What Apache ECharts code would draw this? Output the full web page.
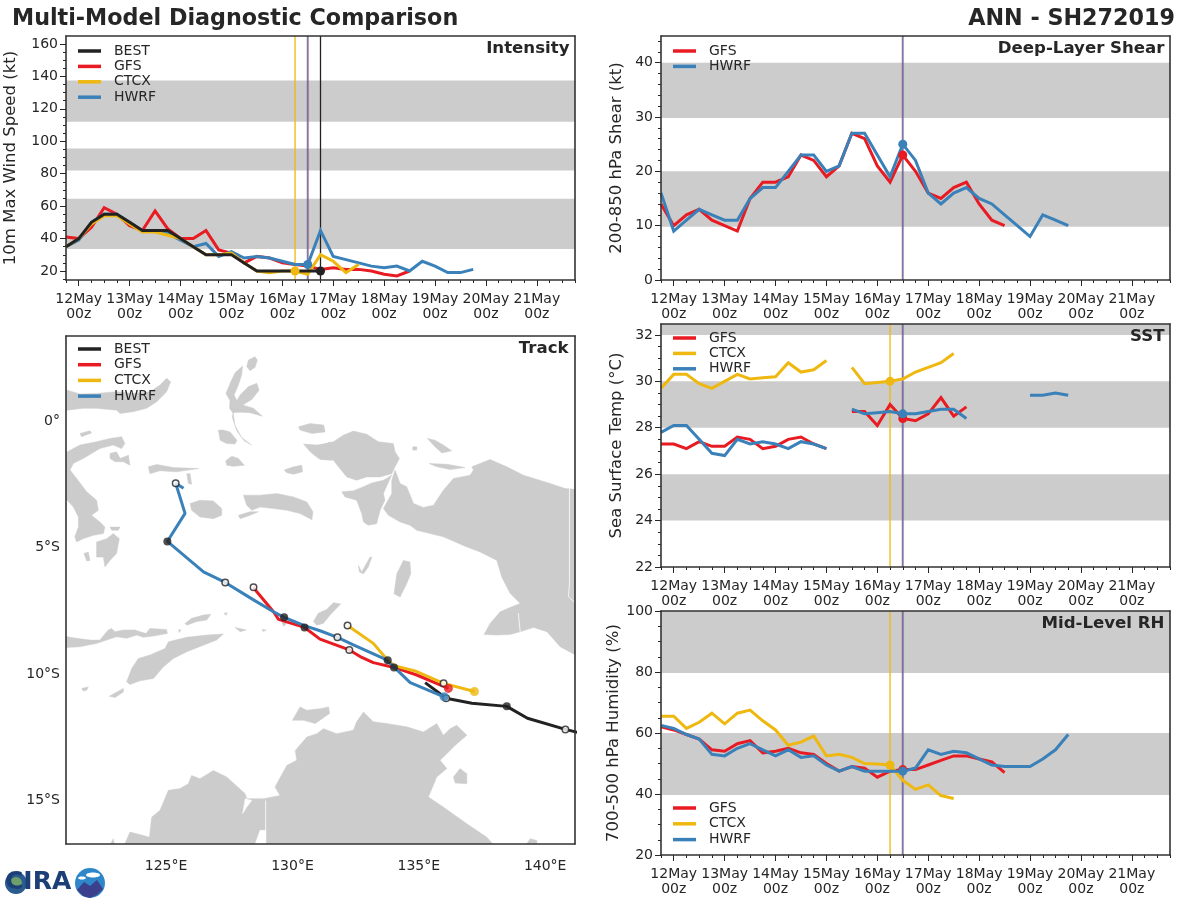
<!DOCTYPE html>
<html><head><meta charset="utf-8"><style>html,body{margin:0;padding:0;background:#fff}#c{width:1200px;height:900px}</style>
<script src="https://cdn.jsdelivr.net/npm/echarts@6/dist/echarts.min.js"></script></head><body><div id="c"></div>
<script>
const hours=[-6,0,6,12,18,24,30,36,42,48,54,60,66,72,78,84,90,96,102,108,114,120,126,132,138,144,150,156,162,168,174,180,186];
const dayTicks=[0,24,48,72,96,120,144,168,192,216];
const dayLabels=['12May\n00z','13May\n00z','14May\n00z','15May\n00z','16May\n00z','17May\n00z','18May\n00z','19May\n00z','20May\n00z','21May\n00z'];
const sixHourTicks=[-6,6,12,18,30,36,42,54,60,66,78,84,90,102,108,114,126,132,138,150,156,162,174,180,186,198,204,210,222,228,234];

const intensityBEST=[35,40,50,55,55,50,45,45,45,40,35,30,30,30,25,20,20,20,20,20,20];
const intensityGFS=[41,40,47,59,55,48,45,57,46,40,40,45,33,31,25,29,28,25,24,23,21,22,21,21,20,18,17,20];
const intensityCTCX=[35,40,49,54,54,49,44,44,42,40,35,30,30,31,25,20,19,20,20,18,30,26,19,24];
const intensityHWRF=[35,39,50,55,55,50,45,45,43,39,35,37,29,32,28,29,28,26,24,24,45,29,27,25,23,22,23,20,26,23,19,19,21];
const shearGFS=[14,10,12,13,11,10,9,15,18,18,19,23,22,19,21,27,26,21,18,23,20,16,15,17,18,14,11,10];
const shearHWRF=[16,9,11,13,12,11,11,15,17,17,20,23,23,20,21,27,27,23,19,25,22,16,14,16,17,15,14,12,10,8,12,11,10];
const sstGFS=[27.3,27.3,27.1,27.4,27.2,27.2,27.6,27.5,27.1,27.2,27.5,27.6,27.3,27.1,null,28.7,28.7,28.1,29.0,28.4,28.3,28.6,29.3,28.5,28.9];
const sstCTCX=[29.7,30.3,30.3,29.9,29.7,30.0,30.3,30.1,30.15,30.2,30.8,30.4,30.5,30.9,null,30.6,29.9,29.95,30.0,30.1,30.4,30.6,30.8,31.2];
const sstHWRF=[27.8,28.1,28.1,27.5,26.9,26.8,27.5,27.3,27.4,27.3,27.1,27.4,27.3,27.1,null,28.8,28.6,28.65,28.7,28.6,28.6,28.7,28.8,28.8,28.4,null,null,null,null,29.4,29.4,29.5,29.4];
const rhGFS=[62,61,59.5,58,54.5,54,56.5,57.5,53.5,54,55,53.5,53,50,47.5,49,48.5,45.5,47.5,48,48,49.5,51,52.5,52.5,51.5,50.5,47];
const rhCTCX=[65.5,65.5,61.5,63.5,66.5,63,66.5,67.5,64,61,56,57,59,52.5,53,52,50,49.8,49.5,44.5,41.5,43,39.5,38.5];
const rhHWRF=[62.5,61.5,59.5,58,53,52.5,55,56.5,54.5,52.5,54.5,52,52.5,49.5,47.5,49,47.5,47.5,47.5,47.5,48.5,54.5,53,54,53.5,51.5,49.5,49,49,49,51.5,54.5,59.5];

const bandsIntensity=[[33.5,64.5],[82,95.5],[112,137.5]];
const bandsShear=[[9.8,20],[29.8,40]];
const bandsSST=[[24,26],[28,30],[32,33]];
const bandsRH=[[39.7,60],[79.7,100]];

const trackBEST=[[141.52,-12.37],[140.80,-12.19],[139.30,-11.75],[138.48,-11.28],[137.10,-11.16],[136.08,-10.96],[135.25,-10.34]];
const trackGFS=[[136.17,-10.57],[134.92,-10.04],[134.02,-9.74],[133.20,-9.55],[132.68,-9.31],[132.25,-9.05],[131.09,-8.62],[130.48,-8.16],[129.45,-7.84],[129.25,-7.54],[128.59,-6.75],[128.46,-6.57]];
const trackCTCX=[[137.20,-10.69],[135.98,-10.37],[134.85,-9.88],[134.06,-9.68],[133.77,-9.46],[133.20,-8.79],[132.18,-8.08]];
const trackHWRF=[[136.0,-10.90],[134.66,-10.34],[133.93,-9.64],[133.60,-9.38],[132.41,-8.85],[131.78,-8.55],[131.09,-8.29],[130.50,-8.10],[129.67,-7.76],[129.25,-7.54],[128.46,-7.07],[127.34,-6.38],[126.48,-5.96],[125.05,-4.76],[125.75,-3.65],[125.38,-2.46],[125.69,-2.66]];
const trackFilled=[[138.48,-11.28],[133.77,-9.46],[129.67,-7.76],[125.05,-4.76],[134.02,-9.74],[130.48,-8.16]];
const trackOpen=[[140.80,-12.19],[136.08,-10.96],[131.78,-8.55],[127.34,-6.38],[125.38,-2.46],[132.25,-9.05],[128.46,-6.57],[135.98,-10.37],[132.18,-8.08]];
const lonTicks=[125,130,135,140], lonLabels=['125°E','130°E','135°E','140°E'];
const latTicks=[0,-5,-10,-15], latLabels=['0°','5°S','10°S','15°S'];

const landCelebesNorth=[[120.67,1.22],[121.09,1.22],[121.59,1.07],[122.25,1.09],[123.04,1.16],[123.70,1.09],[124.36,1.16],[124.76,1.42],[125.02,1.69],[125.18,1.55],[125.02,1.16],[124.63,0.76],[124.23,0.50],[123.70,0.37],[123.18,0.30],[123.04,0.43],[122.25,0.50],[121.72,0.50],[121.09,0.43],[120.67,0.43]];
const landMorotai=[[128.19,2.15],[128.26,2.41],[128.52,2.54],[128.61,2.41],[128.52,2.12],[128.32,1.99]];
const landHalmahera=[[128.03,2.17],[127.73,1.91],[127.56,1.55],[127.37,1.09],[127.53,0.80],[127.51,0.50],[127.66,0.30],[127.72,-0.16],[127.99,-0.65],[128.38,-0.95],[128.09,-0.78],[127.80,-0.39],[127.62,0.14],[127.65,0.33],[127.93,0.35],[128.32,0.33],[128.81,0.19],[128.46,0.50],[128.03,0.63],[128.39,0.85],[128.68,1.22],[128.59,1.49],[128.26,1.36],[127.93,1.03],[127.80,0.80],[127.69,1.03],[127.86,1.42],[127.99,1.82]];
const landBacan=[[127.07,-0.36],[127.27,-0.36],[127.53,-0.43],[127.80,-0.76],[127.73,-0.91],[127.40,-0.89],[127.14,-0.76]];
const landObi=[[127.36,-1.57],[127.60,-1.39],[127.86,-1.48],[128.10,-1.75],[127.66,-1.79],[127.40,-1.75]];
const landMisool=[[129.67,-1.94],[130.04,-1.81],[130.37,-1.75],[130.40,-2.01],[130.04,-2.10],[129.78,-2.05]];
const landWaigeo=[[130.24,-0.23],[130.70,-0.10],[131.23,-0.16],[131.29,-0.43],[130.77,-0.49],[130.30,-0.36]];
const landSalawati=[[130.44,-0.91],[130.96,-0.95],[131.36,-0.89],[131.49,-0.82],[131.49,-1.55],[131.03,-1.48],[130.70,-1.22]];
const landBuru=[[125.95,-3.26],[126.34,-3.13],[126.87,-3.16],[127.20,-3.46],[127.20,-3.73],[126.87,-3.86],[126.34,-3.79],[126.01,-3.53]];
const landSeram=[[128.06,-2.93],[128.72,-2.93],[129.38,-2.87],[130.04,-3.0],[130.57,-3.20],[130.81,-3.59],[130.77,-3.90],[130.30,-3.66],[129.78,-3.53],[129.25,-3.46],[128.72,-3.40],[128.39,-3.53],[128.19,-3.33]];
const landAmbon=[[127.86,-3.73],[128.32,-3.59],[128.65,-3.59],[128.32,-3.73],[127.93,-3.86]];
const landSulaWest=[[124.30,-1.81],[124.63,-1.72],[125.29,-1.84],[126.28,-1.88],[125.42,-2.01],[124.76,-1.97],[124.36,-2.08]];
const landSulaEast=[[125.82,-2.08],[125.95,-2.08],[126.01,-2.50],[125.88,-2.47]];
const landSulawesi=[[120.67,-1.22],[121.09,-1.22],[121.59,-0.95],[122.25,-0.82],[122.78,-0.69],[123.24,-0.62],[123.37,-0.89],[123.24,-1.09],[122.91,-0.95],[122.38,-1.09],[121.72,-1.48],[121.33,-1.68],[121.20,-1.94],[121.46,-2.27],[121.86,-2.80],[122.25,-3.13],[122.32,-3.53],[122.05,-3.73],[122.38,-3.99],[122.58,-4.19],[122.52,-4.45],[122.12,-4.52],[121.72,-4.65],[121.46,-4.78],[121.39,-4.58],[121.53,-4.19],[121.53,-3.79],[121.33,-3.40],[121.09,-3.13],[120.67,-3.13]];
const landBanggai=[[122.78,-1.28],[123.04,-1.22],[123.18,-1.48],[123.51,-1.35],[123.57,-1.75],[123.31,-1.61],[122.98,-1.61],[122.78,-1.48]];
const landButon=[[122.25,-4.78],[122.65,-4.65],[122.91,-4.45],[123.15,-4.65],[123.04,-5.24],[122.78,-5.51],[122.58,-5.77],[122.52,-5.38],[122.25,-5.38]];
const landKabaena=[[121.75,-5.24],[121.92,-5.18],[121.99,-5.51],[121.86,-5.53]];
const landWawonii=[[122.78,-4.19],[123.18,-4.19],[123.11,-4.32],[122.85,-4.32]];
const landTogian=[[121.59,-0.49],[121.99,-0.39],[122.05,-0.47],[121.66,-0.62]];
const landBirdsHead=[[131.09,-0.95],[131.62,-0.82],[132.01,-0.56],[132.41,-0.40],[132.94,-0.52],[133.40,-0.82],[133.99,-0.89],[134.06,-1.22],[134.23,-1.48],[134.06,-1.81],[133.93,-2.08],[133.47,-2.21],[132.94,-2.21],[132.54,-2.34],[132.15,-2.21],[131.82,-1.81],[131.62,-1.55],[131.09,-1.52]];
const landBomberai=[[131.95,-2.80],[132.41,-2.76],[132.81,-2.60],[133.14,-2.45],[133.60,-2.34],[133.93,-2.14],[133.80,-2.41],[133.60,-2.87],[133.66,-3.13],[133.47,-3.53],[133.33,-4.06],[133.00,-4.12],[132.81,-3.99],[132.74,-3.66],[132.54,-3.13],[132.08,-3.0]];
const landTiny=[[131.09,-0.16],[131.25,-0.23],[131.25,-0.40],[131.09,-0.43]];
const landNewGuinea=[[133.93,-2.34],[134.06,-1.94],[134.26,-2.47],[134.52,-2.60],[134.79,-3.26],[135.18,-3.42],[135.58,-3.33],[135.97,-2.74],[136.37,-2.27],[137.03,-2.14],[137.16,-1.94],[137.10,-1.81],[137.82,-1.52],[138.48,-1.81],[139.14,-2.14],[140.20,-2.47],[140.79,-2.67],[141.65,-2.74],[141.65,-9.52],[141.27,-9.29],[140.59,-8.92],[140.07,-8.33],[139.54,-8.16],[139.01,-8.33],[138.61,-8.44],[138.09,-8.46],[137.58,-8.44],[137.82,-8.0],[138.22,-7.54],[138.68,-7.34],[139.01,-7.21],[138.61,-6.81],[138.28,-6.17],[138.09,-5.51],[137.43,-5.18],[136.90,-4.98],[135.97,-4.58],[134.92,-4.32],[134.65,-4.12],[134.26,-3.99],[133.80,-3.73],[133.60,-3.46],[133.93,-2.87]];
const landAru=[[134.02,-6.83],[134.13,-6.04],[134.39,-5.51],[134.65,-5.57],[134.68,-6.04],[134.52,-6.43],[134.26,-6.96]];
const landKai=[[132.61,-5.71],[132.74,-5.97],[133.07,-5.38],[133.14,-5.38],[133.0,-5.77],[132.81,-6.04],[132.65,-5.97]];
const landBiak=[[135.34,-0.69],[135.64,-0.76],[135.97,-0.95],[136.30,-1.18],[135.91,-1.26],[135.64,-1.02]];
const landNumfor=[[134.76,-1.02],[134.92,-1.02],[134.92,-1.15],[134.76,-1.15]];
const landYapen=[[135.41,-1.68],[136.11,-1.71],[136.83,-1.84],[136.24,-1.92],[135.71,-1.81]];
const landFlores=[[120.67,-8.53],[121.09,-8.53],[121.46,-8.59],[121.99,-8.66],[122.38,-8.66],[122.71,-8.26],[122.85,-8.20],[122.98,-8.33],[123.31,-8.26],[123.77,-8.26],[123.97,-8.33],[124.21,-8.40],[124.36,-8.20],[125.02,-8.24],[125.05,-8.40],[124.50,-8.50],[124.10,-8.55],[123.84,-8.46],[123.44,-8.59],[123.04,-8.53],[122.65,-8.66],[122.25,-8.79],[121.59,-8.92],[121.09,-8.95],[120.67,-8.95]];
const landWetar=[[125.75,-8.0],[126.01,-7.80],[126.48,-7.67],[126.77,-7.64],[126.61,-7.87],[126.21,-7.93],[125.82,-8.07]];
const landTimor=[[127.27,-8.42],[127.0,-8.66],[126.48,-8.86],[125.82,-9.12],[125.29,-9.39],[124.89,-9.72],[124.50,-10.18],[123.97,-10.27],[123.57,-10.42],[123.44,-10.31],[123.64,-9.78],[123.90,-9.39],[124.36,-9.25],[124.96,-8.99],[125.09,-8.73],[125.82,-8.55],[126.61,-8.46]];
const landRote=[[122.75,-10.88],[123.31,-10.57],[123.31,-10.71],[122.98,-10.93]];
const landSavu=[[121.66,-10.57],[121.92,-10.51],[121.86,-10.64],[121.72,-10.67]];
const landLeti=[[127.73,-8.16],[128.17,-8.26],[127.93,-8.33]];
const landRomang=[[127.29,-7.60],[127.43,-7.58],[127.37,-7.68]];
const landSermata=[[128.79,-8.24],[128.96,-8.26],[128.85,-8.32]];
const landAtauro=[[125.49,-8.26],[125.58,-8.24],[125.53,-8.36]];
const landBabar=[[129.58,-7.93],[129.78,-8.0],[129.64,-8.11]];
const landTanimbar=[[130.83,-7.93],[131.02,-7.60],[131.35,-7.45],[131.62,-7.18],[131.91,-7.23],[131.49,-7.67],[131.22,-8.0],[130.96,-8.07]];
const landMelville=[[130.0,-11.83],[130.30,-11.30],[130.57,-11.43],[131.10,-11.37],[131.43,-11.30],[131.47,-11.56],[130.90,-11.96],[130.44,-11.83]];
const landAustralia=[[123.37,-16.98],[123.37,-16.71],[123.57,-16.25],[124.10,-16.38],[124.34,-16.45],[124.43,-15.66],[124.76,-15.39],[125.09,-14.60],[125.55,-14.53],[125.88,-14.34],[126.01,-14.01],[126.34,-14.14],[126.87,-13.81],[127.40,-14.07],[128.13,-14.73],[128.19,-14.93],[128.85,-14.93],[129.51,-14.80],[129.31,-14.47],[129.78,-13.61],[130.17,-13.41],[130.11,-13.02],[130.57,-12.49],[130.96,-12.36],[131.23,-12.16],[131.75,-12.36],[132.41,-12.22],[132.54,-11.89],[132.81,-11.50],[133.20,-11.89],[133.73,-11.96],[134.52,-12.09],[135.18,-12.29],[135.71,-11.96],[135.97,-12.42],[136.24,-12.16],[136.50,-12.03],[136.90,-12.42],[136.44,-12.82],[136.11,-13.15],[135.84,-13.41],[136.11,-13.74],[135.71,-14.07],[135.38,-14.86],[135.97,-15.26],[136.90,-15.92],[137.69,-16.45],[137.95,-16.74],[138.09,-16.98]];
const landDerby=[[122.71,-16.9],[122.91,-16.51],[122.98,-16.9]];
const landGroote=[[136.37,-14.07],[136.63,-13.74],[136.90,-13.94],[136.90,-14.34],[136.44,-14.31]];
const landMornington=[[139.14,-16.9],[139.41,-16.51],[139.67,-16.58],[139.67,-16.9]];
const landShapes=[landCelebesNorth,landMorotai,landHalmahera,landBacan,landObi,landMisool,landWaigeo,landSalawati,landBuru,landSeram,landAmbon,landSulaWest,landSulaEast,landSulawesi,landBanggai,landButon,landKabaena,landWawonii,landTogian,landBirdsHead,landBomberai,landTiny,landNewGuinea,landAru,landKai,landBiak,landNumfor,landYapen,landFlores,landWetar,landTimor,landRote,landSavu,landLeti,landRomang,landSermata,landAtauro,landBabar,landTanimbar,landMelville,landAustralia,landDerby,landGroote,landMornington];
const waterLakeArgyle=[[128.46,-16.9],[128.72,-16.18],[128.94,-16.18],[128.94,-16.9]];
const waterOrdInlet=[[128.03,-15.52],[128.13,-14.93],[128.39,-15.0],[128.19,-15.26]];
const waterShapes=[waterLakeArgyle,waterOrdInlet];
const borderPNG=[[140.96,-2.67],[140.96,-6.43],[140.92,-6.94],[141.2,-7.2]];
const borderWANT=[[128.94,-15.0],[128.94,-16.9]];
const borderYos=[[138.94,-7.6],[139.01,-8.33]];
const borderLines=[borderPNG,borderWANT,borderYos];

const RED='#E81B23',YEL='#EFB811',BLU='#3A80B9',BLK='#222222',INK='#262626',GREY='#CCCCCC',FONT='DejaVu Sans';
const panels=[
 {id:'intensity',l:66,t:36,w:509,h:244,yMin:14.45,yMax:164.9,major:[20,40,60,80,100,120,140,160],minor:[15,25,30,35,45,50,55,65,70,75,85,90,95,105,110,115,125,130,135,145,150,155],
  name:'10m Max Wind Speed (kt)',nameGap:47,bands:bandsIntensity,title:'Intensity',
  lines:[['GFS',intensityGFS,RED],['HWRF',intensityHWRF,BLU],['CTCX',intensityCTCX,YEL],['BEST',intensityBEST,BLK]],
  vlines:[[102,YEL,1.3,1],[108,RED,2.6,0.35],[108,'#3A78BC',1.1,1],[114,BLK,1.3,1]],dots:[[102,20,YEL],[108,24,BLU],[114,20,BLK]],
  legend:['BEST','GFS','CTCX','HWRF'],legTop:43.5,legGap:0.4},
 {id:'shear',l:661,t:36,w:509,h:244,yMin:0,yMax:44.9,major:[0,10,20,30,40],minor:[2,4,6,8,12,14,16,18,22,24,26,28,32,34,36,38,42,44],
  name:'200-850 hPa Shear (kt)',nameGap:36,bands:bandsShear,title:'Deep-Layer Shear',
  lines:[['GFS',shearGFS,RED],['HWRF',shearHWRF,BLU]],
  vlines:[[108,RED,2.6,0.35],[108,'#3A78BC',1.1,1]],dots:[[108,23,RED],[108,25,BLU]],
  legend:['GFS','HWRF'],legTop:43.5,legGap:0.4},
 {id:'sst',l:661,t:324,w:509,h:243,yMin:22,yMax:32.47,major:[22,24,26,28,30,32],minor:[22.5,23,23.5,24.5,25,25.5,26.5,27,27.5,28.5,29,29.5,30.5,31,31.5],
  name:'Sea Surface Temp (°C)',nameGap:36,bands:bandsSST,title:'SST',
  lines:[['GFS',sstGFS,RED],['CTCX',sstCTCX,YEL],['HWRF',sstHWRF,BLU]],
  vlines:[[102,YEL,1.3,1],[108,RED,2.6,0.35],[108,'#3A78BC',1.1,1]],dots:[[102,30,YEL],[108,28.4,RED],[108,28.6,BLU]],
  legend:['GFS','CTCX','HWRF'],legTop:330.5,legGap:0.4},
 {id:'rh',l:661,t:611,w:509,h:244,yMin:20,yMax:100,major:[20,40,60,80,100],minor:[25,30,35,45,50,55,65,70,75,85,90,95],
  name:'700-500 hPa Humidity (%)',nameGap:28,bands:bandsRH,title:'Mid-Level RH',
  lines:[['GFS',rhGFS,RED],['CTCX',rhCTCX,YEL],['HWRF',rhHWRF,BLU]],
  vlines:[[102,YEL,1.3,1],[108,RED,2.6,0.35],[108,'#3A78BC',1.1,1]],dots:[[102,49.5,YEL],[108,48,RED],[108,47.5,BLU]],
  legend:['GFS','CTCX','HWRF'],legTop:800.5,legGap:0.8}
];
const labelStyle={color:INK,fontSize:14,fontFamily:FONT};
const axisLineStyle={lineStyle:{color:'#333',width:1.6}};
const option={animation:false,textStyle:{fontFamily:FONT,color:INK},
 title:[{text:'Multi-Model Diagnostic Comparison',left:12,top:8,padding:0,textStyle:{fontSize:22.25,fontWeight:'bold',color:INK,fontFamily:FONT}},
        {text:'ANN - SH272019',right:25,top:8,padding:0,textStyle:{fontSize:22.25,fontWeight:'bold',color:INK,fontFamily:FONT}}],
 grid:[],xAxis:[],yAxis:[],series:[],legend:[],graphic:[]};
function bandRender(params,api){
  const cs=params.coordSys;
  const y0=api.coord([0,api.value(1)])[1],y1=api.coord([0,api.value(2)])[1];
  return {type:'rect',shape:{x:cs.x,y:y1,width:cs.width,height:y0-y1},style:{fill:GREY,stroke:'none'}};
}
const legendStyle={orient:'vertical',icon:'rect',itemWidth:23,itemHeight:3.5,selectedMode:false,padding:0,textStyle:{color:INK,fontSize:14,lineHeight:15,fontFamily:FONT,padding:[0,0,0,8]}};
const hiddenLine={show:false,onZero:false};
panels.forEach((p,g)=>{
  option.grid.push({left:p.l,top:p.t,width:p.w,height:p.h,show:false});
  const xi=option.xAxis.length,yi=option.yAxis.length;
  option.xAxis.push(
   {type:'value',gridIndex:g,position:'bottom',min:-6,max:234,axisLine:{...axisLineStyle,onZero:false},splitLine:{show:false},z:10,
    axisTick:{show:true,length:6,lineStyle:{color:INK,width:1},customValues:dayTicks},
    axisLabel:{...labelStyle,margin:12,lineHeight:15,customValues:dayTicks,formatter:v=>dayLabels[dayTicks.indexOf(v)]}},
   {type:'value',gridIndex:g,position:'bottom',min:-6,max:234,axisLine:hiddenLine,splitLine:{show:false},axisLabel:{show:false},
    axisTick:{show:true,length:3,lineStyle:{color:INK,width:1},customValues:sixHourTicks}},
   {type:'value',gridIndex:g,position:'top',min:-6,max:234,axisLine:{...axisLineStyle,onZero:false},splitLine:{show:false},axisLabel:{show:false},axisTick:{show:false},z:10});
  option.yAxis.push(
   {type:'value',gridIndex:g,position:'left',min:p.yMin,max:p.yMax,axisLine:{...axisLineStyle,onZero:false},splitLine:{show:false},z:10,
    name:p.name,nameLocation:'middle',nameRotate:90,nameGap:p.nameGap,nameTextStyle:{color:INK,fontSize:16.5,fontFamily:FONT},
    axisTick:{show:true,length:6,lineStyle:{color:INK,width:1},customValues:p.major},
    axisLabel:{...labelStyle,margin:8,customValues:p.major}},
   {type:'value',gridIndex:g,position:'left',min:p.yMin,max:p.yMax,axisLine:hiddenLine,splitLine:{show:false},axisLabel:{show:false},
    axisTick:{show:true,length:3,lineStyle:{color:INK,width:1},customValues:p.minor}},
   {type:'value',gridIndex:g,position:'right',min:p.yMin,max:p.yMax,axisLine:{...axisLineStyle,onZero:false},splitLine:{show:false},axisLabel:{show:false},axisTick:{show:false},z:10});
  const ax={xAxisIndex:xi,yAxisIndex:yi};
  option.series.push({type:'custom',name:p.id+' bands',...ax,z:1,silent:true,clip:true,renderItem:bandRender,encode:{x:0,y:[1,2]},data:p.bands.map(b=>[0,b[0],b[1]])});
  p.vlines.forEach(v=>option.series.push({type:'line',name:p.id+' time',...ax,z:2,silent:true,symbol:'none',lineStyle:{color:v[1],width:v[2],opacity:v[3]},data:[[v[0],p.yMin],[v[0],p.yMax]]}));
  p.lines.forEach((s,k)=>option.series.push({type:'line',name:s[0],...ax,z:3+k,symbol:'none',connectNulls:false,color:s[2],lineStyle:{color:s[2],width:3,join:'miter'},data:s[1].map((v,i)=>[hours[i],v===null?'-':v])}));
  p.dots.forEach(d=>option.series.push({type:'scatter',name:p.id+' current',...ax,z:9,symbolSize:9,itemStyle:{color:d[2],opacity:1},data:[[d[0],d[1]]]}));
  option.legend.push({...legendStyle,itemGap:p.legGap,data:p.legend,left:p.l+12,top:p.legTop});
  option.title.push({text:p.title,right:1200-(p.l+p.w)+5.5,top:p.t+4,padding:0,textStyle:{fontSize:16.6,fontWeight:'bold',color:INK,fontFamily:FONT}});
});
// Track map
const tg=panels.length;
option.grid.push({left:66,top:336,width:509,height:508,show:false});
const xt=option.xAxis.length,yt=option.yAxis.length;
const LON0=121.04,LON1=141.18,LAT0=-16.72,LAT1=3.36;
option.xAxis.push({type:'value',gridIndex:tg,position:'bottom',min:LON0,max:LON1,axisLine:{...axisLineStyle,onZero:false},splitLine:{show:false},axisTick:{show:false},z:10,
   axisLabel:{...labelStyle,margin:15,customValues:lonTicks,formatter:v=>lonLabels[lonTicks.indexOf(v)]}},
  {type:'value',gridIndex:tg,position:'top',min:LON0,max:LON1,axisLine:{...axisLineStyle,onZero:false},splitLine:{show:false},axisTick:{show:false},axisLabel:{show:false},z:10});
option.yAxis.push({type:'value',gridIndex:tg,position:'left',min:LAT0,max:LAT1,axisLine:{...axisLineStyle,onZero:false},splitLine:{show:false},axisTick:{show:false},z:10,
   axisLabel:{...labelStyle,margin:6,customValues:latTicks,formatter:v=>latLabels[latTicks.indexOf(v)]}},
  {type:'value',gridIndex:tg,position:'right',min:LAT0,max:LAT1,axisLine:{...axisLineStyle,onZero:false},splitLine:{show:false},axisTick:{show:false},axisLabel:{show:false},z:10});
const axT={xAxisIndex:xt,yAxisIndex:yt};
const ringSeries=(name,rings,fill,z)=>({type:'custom',name,...axT,z,silent:true,clip:true,encode:{x:0,y:1},
  data:rings.map((r,i)=>[r[0][0],r[0][1],i]),
  renderItem:(params,api)=>({type:'polygon',shape:{points:rings[api.value(2)].map(c=>api.coord(c))},style:{fill,stroke:fill,lineWidth:0.5}})});
option.series.push(ringSeries('land',landShapes,GREY,1),ringSeries('water',waterShapes,'#fff',1.5));
option.series.push({type:'custom',name:'borders',...axT,z:1.6,silent:true,clip:true,encode:{x:0,y:1},
  data:borderLines.map((r,i)=>[r[0][0],r[0][1],i]),
  renderItem:(params,api)=>({type:'polyline',shape:{points:borderLines[api.value(2)].map(c=>api.coord(c))},style:{fill:'none',stroke:'#fff',lineWidth:0.8}})});
[['BEST',trackBEST,BLK],['GFS',trackGFS,RED],['CTCX',trackCTCX,YEL],['HWRF',trackHWRF,BLU]].forEach((s,k)=>
  option.series.push({type:'line',name:s[0],...axT,z:3+k,symbol:'none',color:s[2],lineStyle:{color:s[2],width:3},data:s[1]}));
option.series.push({type:'scatter',name:'track 24h filled',...axT,z:8,symbolSize:8,itemStyle:{color:BLK},data:trackFilled},
  {type:'scatter',name:'track 24h open',...axT,z:8,symbolSize:6.5,itemStyle:{color:'#fff',borderColor:BLK,borderWidth:1.5},data:trackOpen},
  {type:'scatter',name:'GFS start',...axT,z:9,symbolSize:9,itemStyle:{color:RED},data:[trackGFS[0]]},
  {type:'scatter',name:'CTCX start',...axT,z:9,symbolSize:9,itemStyle:{color:YEL},data:[trackCTCX[0]]},
  {type:'scatter',name:'HWRF start',...axT,z:9,symbolSize:9,itemStyle:{color:BLU},data:[trackHWRF[0]]});
option.legend.push({...legendStyle,itemGap:0.7,data:['BEST','GFS','CTCX','HWRF'],left:78,top:341.5});
option.title.push({text:'Track',right:1200-575+6.5,top:340,padding:0,textStyle:{fontSize:16.6,fontWeight:'bold',color:INK,fontFamily:FONT}});
// Logo
option.graphic=[
 {type:'circle',shape:{cx:16,cy:883,r:11},style:{fill:'#2A5C8F'},z:1},
 {type:'circle',shape:{cx:16,cy:883,r:6},style:{fill:'#6FA06A'},z:2},
 {type:'text',style:{x:5,y:870,text:'CIRA',font:'bold 25px "DejaVu Sans"',fill:'#1D3F78'},z:3},
 {type:'circle',shape:{cx:90,cy:883,r:15},style:{fill:'#2E87C8'},z:1},
 {type:'polygon',shape:{points:[[77,890],[84,882],[90,886],[97,880],[103,889],[97,895],[90,898],[83,896]]},style:{fill:'#3B3F8C'},z:2},
 {type:'ellipse',shape:{cx:93,cy:875,rx:7,ry:2.5},style:{fill:'#fff'},z:3},
 {type:'ellipse',shape:{cx:82,cy:878,rx:4,ry:1.5},style:{fill:'#fff'},z:3}
];
echarts.init(document.getElementById('c')).setOption(option);
</script></body></html>
